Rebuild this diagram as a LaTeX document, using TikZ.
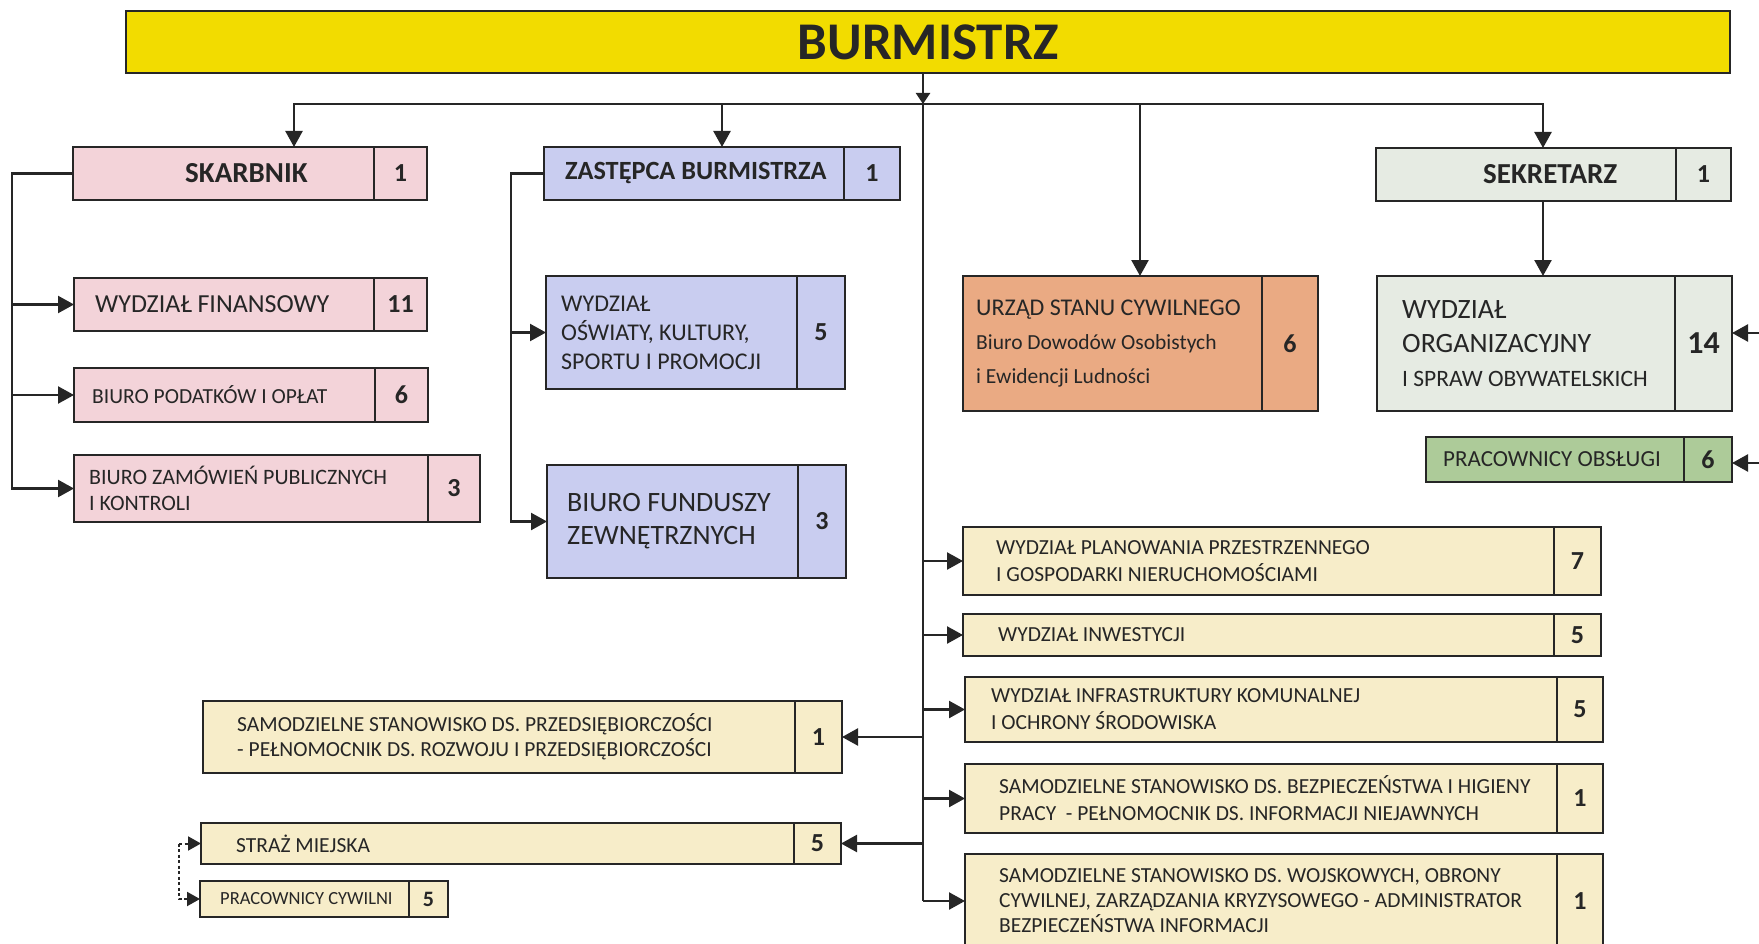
\documentclass[tikz,border=0pt]{standalone}
\usepackage{fontspec}
\setmainfont{Carlito}
\usetikzlibrary{arrows.meta}
\newcommand{\fsz}[2]{\fontsize{#1}{#2}\selectfont}
\definecolor{ink}{RGB}{38,38,38}
\definecolor{bar}{RGB}{242,220,0}
\definecolor{pinkbox}{RGB}{243,211,217}
\definecolor{lilac}{RGB}{201,205,240}
\definecolor{salmon}{RGB}{234,170,131}
\definecolor{mist}{RGB}{230,235,227}
\definecolor{sage}{RGB}{173,203,153}
\definecolor{cream}{RGB}{247,237,201}
\tikzstyle{wire} = [draw=ink,line width=2.4pt]
\tikzstyle{arrow} = [wire,-{Triangle[length=16pt,width=17pt]}]
\tikzstyle{dotarrow} = [draw=ink,line width=2pt,dash pattern=on 3pt off 2.5pt,-{Triangle[length=13pt,width=14pt]}]
\tikzstyle{box} = [draw=ink,line width=1.4pt,inner sep=0pt,outer sep=0pt]
\tikzstyle{boxtext} = [align=left,inner sep=0pt,text=ink]

\begin{document}
\begin{tikzpicture}[x=1pt,y=-1pt]
	\useasboundingbox (0,0) rectangle (1759,944);
	\clip (0,0) rectangle (1759,944);
	\node[box,fill=bar,minimum width=1604,minimum height=62,anchor=north west,font=\bfseries\fsz{53}{60},text=ink] (burmistrz) at (126,11) {BURMISTRZ};
	\foreach \nm/\x/\y/\w/\h/\cw/\col/\pad/\fnt/\txt/\cnt in {
		skarbnik/73/147/301/53/53/pinkbox/112/{\bfseries\fsz{29}{34}}/SKARBNIK/1,
		finansowy/74/278/300/53/53/pinkbox/21/{\fsz{26}{30}}/{WYDZIAŁ FINANSOWY}/11,
		podatki/74/368/301/54/53/pinkbox/18/{\fsz{21.5}{26}}/{BIURO PODATKÓW I OPŁAT}/6,
		zamowienia/74/455/354/67/52/pinkbox/15/{\fsz{22}{26}}/{BIURO ZAMÓWIEŃ PUBLICZNYCH\\I KONTROLI}/3,
		zastepca/544/147/300/53/56/lilac/21/{\bfseries\fsz{26.3}{32}}/{ZASTĘPCA BURMISTRZA}/1,
		oswiata/546/276/251/113/48/lilac/15/{\fsz{24}{29}}/{WYDZIAŁ\\OŚWIATY, KULTURY,\\SPORTU I PROMOCJI}/5,
		fundusze/547/465/251/113/48/lilac/20/{\fsz{28}{33}}/{BIURO FUNDUSZY\\ZEWNĘTRZNYCH}/3,
		usc/963/276/299/135/56/salmon/13/{\fsz{21.5}{34}}/{\fsz{24}{34}URZĄD STANU CYWILNEGO\\Biuro Dowodów Osobistych\\i Ewidencji Ludności}/6,
		sekretarz/1376/148/300/53/55/mist/107/{\bfseries\fsz{29}{34}}/SEKRETARZ/1,
		organizacja/1377/276/298/135/57/mist/25/{\fsz{23.5}{34}}/{\fsz{28}{34}WYDZIAŁ\\\fsz{28}{34}ORGANIZACYJNY\\I SPRAW OBYWATELSKICH}/{\fsz{32}{36}14},
		obsluga/1426/437/258/45/48/sage/17/{\fsz{23}{28}}/{PRACOWNICY OBSŁUGI}/6,
		planowanie/963/527/591/68/47/cream/33/{\fsz{21.5}{27}}/{WYDZIAŁ PLANOWANIA PRZESTRZENNEGO\\I GOSPODARKI NIERUCHOMOŚCIAMI}/7,
		inwestycje/963/614/591/42/47/cream/35/{\fsz{21.5}{26}}/{WYDZIAŁ INWESTYCJI}/5,
		komunalka/965/677/592/65/46/cream/26/{\fsz{21.5}{27}}/{WYDZIAŁ INFRASTRUKTURY KOMUNALNEJ\\I OCHRONY ŚRODOWISKA}/5,
		bhp/965/764/592/69/46/cream/34/{\fsz{21.5}{27}}/{SAMODZIELNE STANOWISKO DS. BEZPIECZEŃSTWA I HIGIENY\\PRACY~~- PEŁNOMOCNIK DS. INFORMACJI NIEJAWNYCH}/1,
		wojsko/965/854/592/94/46/cream/34/{\fsz{21.5}{25}}/{SAMODZIELNE STANOWISKO DS. WOJSKOWYCH, OBRONY\\CYWILNEJ, ZARZĄDZANIA KRYZYSOWEGO - ADMINISTRATOR\\BEZPIECZEŃSTWA INFORMACJI}/1,
		przedsiebiorczosc/203/701/592/72/47/cream/34/{\fsz{21.5}{25}}/{SAMODZIELNE STANOWISKO DS. PRZEDSIĘBIORCZOŚCI\\- PEŁNOMOCNIK DS. ROZWOJU I PRZEDSIĘBIORCZOŚCI}/1,
		straz/201/823/593/41/47/cream/35/{\fsz{21.5}{26}}/{STRAŻ MIEJSKA}/5,
		cywilni/200/881/209/36/39/cream/20/{\fsz{18.5}{22}}/{PRACOWNICY CYWILNI}/{\fsz{22}{26}5}} {
		\node[box,fill=\col,minimum width=\w,minimum height=\h,anchor=north west] (\nm) at (\x,\y) {};
		\node[boxtext,font=\fnt,anchor=west] (\nm-t) at ([xshift=\pad]\nm.west) {\txt};
		\node[box,fill=\col,minimum width=\cw,minimum height=\h,anchor=west,font=\bfseries\fsz{26}{30},text=ink] (\nm-n) at (\nm.east) {\cnt};
	}
	\coordinate (hub) at (923,104);
	\coordinate (skdrop) at (294,0);
	\coordinate (zadrop) at (722,0);
	\coordinate (uscdrop) at (1140,0);
	\coordinate (sekdrop) at (1543,0);
	\coordinate (skbus) at (12,0);
	\coordinate (zabus) at (511,0);
	\coordinate (dotbus) at (179,0);
	\coordinate (orgin) at (1766,333);
	\coordinate (obsin) at (1766,463);
	\draw[wire,-{Triangle[length=11pt,width=14pt]}] (burmistrz.south -| hub) -- (hub);
	\draw[arrow] (hub) -| (skdrop |- skarbnik.north);
	\draw[arrow] (hub) -| (sekdrop |- sekretarz.north);
	\foreach \d/\nm in {zadrop/zastepca,uscdrop/usc}
		\draw[arrow] (\d |- hub) -- (\d |- \nm.north);
	\draw[arrow] (sekdrop |- sekretarz.south) -- (sekdrop |- organizacja.north);
	\draw[arrow] (orgin) -- (orgin -| organizacja-n.east);
	\draw[arrow] (obsin) -- (obsin -| obsluga-n.east);
	\draw[arrow] (skarbnik.west) -| (skbus |- zamowienia.west) -- (zamowienia.west);
	\foreach \nm in {finansowy,podatki}
		\draw[arrow] (skbus |- \nm.west) -- (\nm.west);
	\draw[arrow] (zastepca.west) -| (zabus |- fundusze.west) -- (fundusze.west);
	\draw[arrow] (zabus |- oswiata.west) -- (oswiata.west);
	\draw[wire] (hub) -- (hub |- wojsko.west);
	\foreach \nm in {planowanie,inwestycje,komunalka,bhp,wojsko}
		\draw[arrow] (hub |- \nm.west) -- (\nm.west);
	\foreach \nm in {przedsiebiorczosc,straz}
		\draw[arrow] (hub |- \nm-n.east) -- (\nm-n.east);
	\draw[dotarrow] (dotbus |- straz.west) -- (straz.west);
	\draw[dotarrow] (dotbus |- straz.west) -- (dotbus |- cywilni.west) -- (cywilni.west);
\end{tikzpicture}
\end{document}
